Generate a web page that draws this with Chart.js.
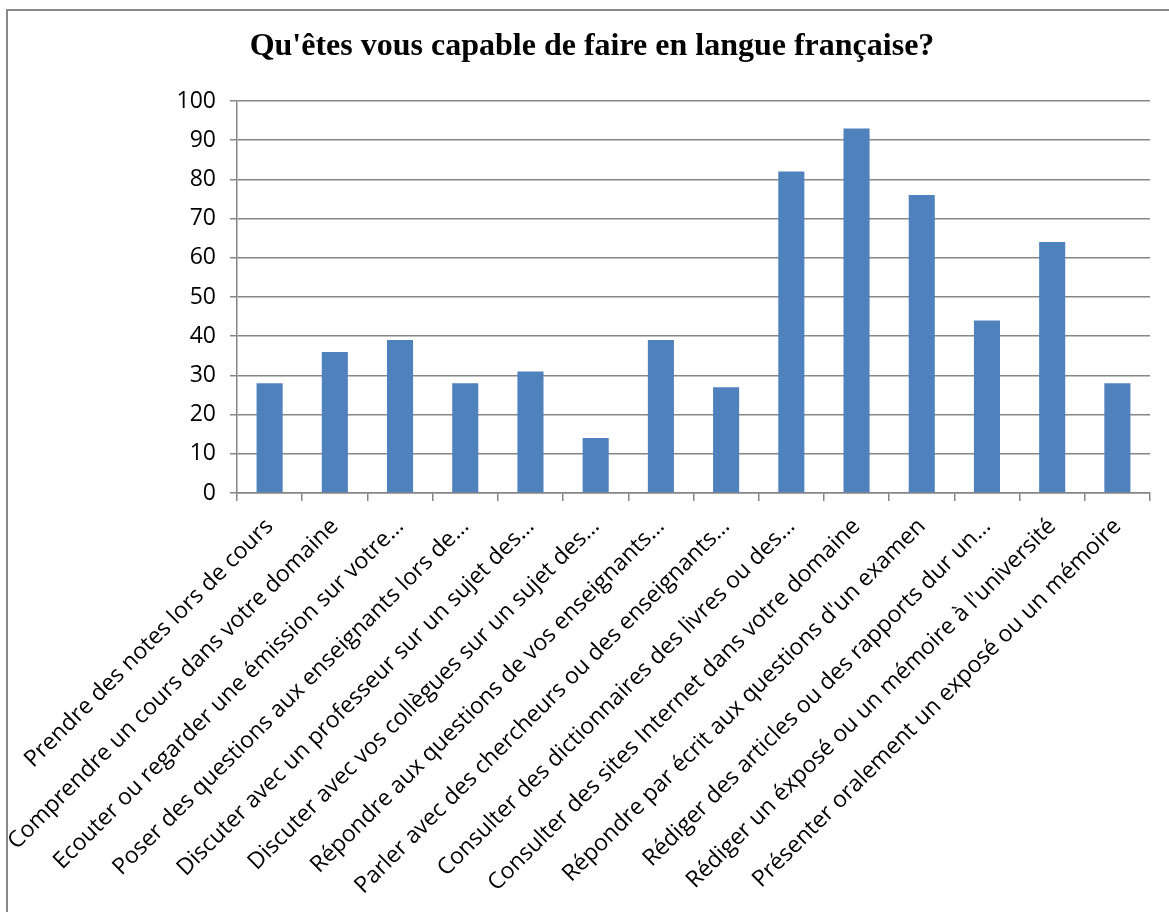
<!DOCTYPE html>
<html>
<head>
<meta charset="utf-8">
<script src="https://cdn.jsdelivr.net/npm/chart.js@4/dist/chart.umd.min.js"></script>
<style>
  html, body { margin: 0; padding: 0; background: #fff; }
  #wrap { position: relative; width: 1169px; height: 912px; overflow: hidden; }
  #frame { position: absolute; left: 6px; top: 9px; width: 1170px; height: 910px;
           border-left: 2px solid #8a8a8a; border-top: 2px solid #8a8a8a; box-sizing: border-box; }
  canvas { position: absolute; left: 0; top: 0; }
</style>
</head>
<body>
<div id="wrap">
  <div id="frame"></div>
  <canvas id="c" width="1169" height="912"></canvas>
</div>
<script>
const chartTitle = "Qu'êtes vous capable de faire en langue française?";
const categories = [
  "Prendre des notes lors de cours",
  "Comprendre un cours dans votre domaine",
  "Ecouter ou regarder une émission sur votre…",
  "Poser des questions aux enseignants lors de…",
  "Discuter avec un professeur sur un sujet des…",
  "Discuter avec vos collègues sur un sujet des…",
  "Répondre aux questions de vos enseignants…",
  "Parler avec des chercheurs ou des enseignants…",
  "Consulter des dictionnaires des livres ou des…",
  "Consulter des sites Internet dans votre domaine",
  "Répondre par écrit aux questions d'un examen",
  "Rédiger des articles ou des rapports dur un…",
  "Rédiger un éxposé ou un mémoire à l'université",
  "Présenter oralement un exposé ou un mémoire"
];
const values = [28, 36, 39, 28, 31, 14, 39, 27, 82, 93, 76, 44, 64, 28];
const yMin = 0, yMax = 100, yStep = 10;

const gridColor = '#868686';

new Chart(document.getElementById('c'), {
  type: 'bar',
  data: {
    labels: categories,
    datasets: [{
      data: values,
      backgroundColor: '#4f81bd',
      borderWidth: 0,
      barPercentage: 0.4,
      categoryPercentage: 1.0
    }]
  },
  options: {
    responsive: false,
    animation: false,
    layout: { padding: { left: 34, right: 19, top: 0, bottom: 0 } },
    plugins: {
      legend: { display: false },
      tooltip: { enabled: false },
      title: {
        display: true,
        text: chartTitle,
        color: '#000',
        font: { family: 'Liberation Serif', size: 32, weight: 'bold', lineHeight: 1.2 },
        padding: { top: 28, bottom: 34.6 }
      }
    },
    scales: {
      x: {
        afterFit: (s) => { s.height = 419; },
        grid: { display: true, drawOnChartArea: false, drawTicks: true, tickLength: 8, color: gridColor, lineWidth: 1.5 },
        border: { display: true, color: gridColor, width: 1.5 },
        ticks: {
          autoSkip: false,
          maxRotation: 45,
          minRotation: 45,
          color: '#000',
          padding: 12,
          font: { family: 'Open Sans', size: 23 }
        }
      },
      y: {
        min: yMin,
        max: yMax,
        afterFit: (s) => { s.width = 203; },
        grid: { color: gridColor, lineWidth: 1.5, tickLength: 7, drawTicks: true },
        border: { display: true, color: gridColor, width: 1.5 },
        ticks: {
          stepSize: yStep,
          color: '#000',
          padding: 14,
          font: { family: 'Open Sans', size: 23 }
        }
      }
    }
  }
});
</script>
</body>
</html>
